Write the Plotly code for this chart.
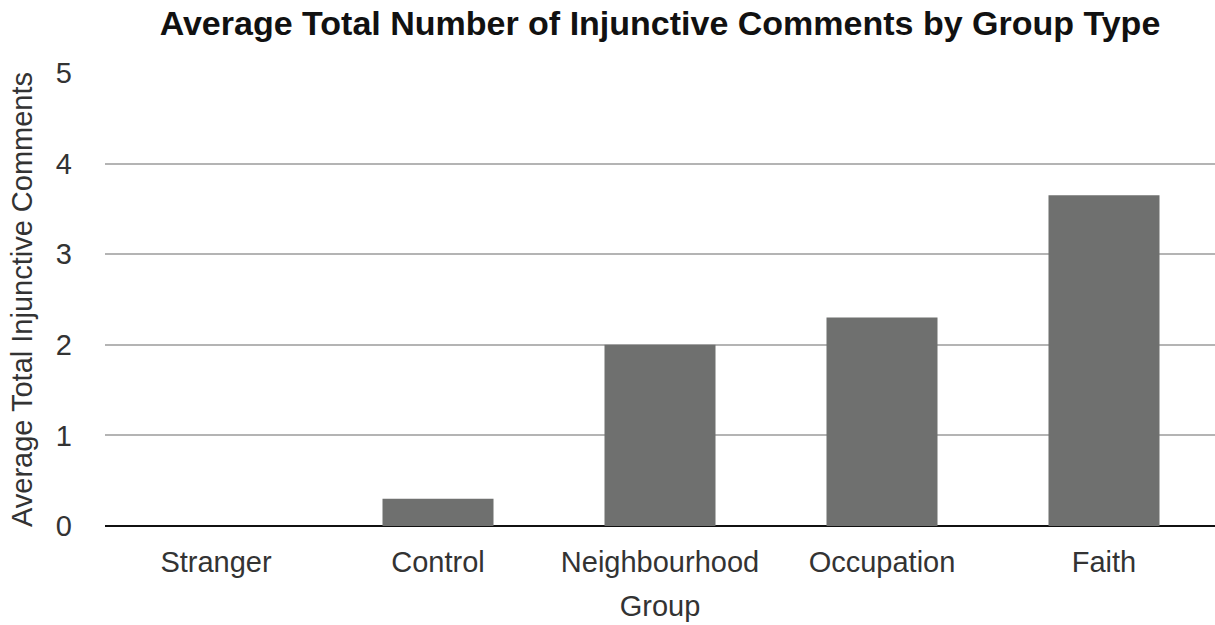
import plotly.graph_objects as go

# Average number of injunctive comments per group
groups = ["Stranger", "Control", "Neighbourhood", "Occupation", "Faith"]
avg_comments = [0.0, 0.3, 2.0, 2.3, 3.65]
y_ticks = [0, 1, 2, 3, 4, 5]

FONT = "Liberation Sans, Arial, Helvetica, sans-serif"
BAR = "#6f706f"
TEXT = "#333333"

fig = go.Figure(
    go.Bar(
        x=groups,
        y=avg_comments,
        marker=dict(color=BAR, line=dict(width=0)),
        hoverinfo="x+y",
    )
)

fig.update_layout(
    width=1215,
    height=625,
    margin=dict(l=105, r=0, t=73, b=99),
    paper_bgcolor="white",
    plot_bgcolor="white",
    bargap=0.5,
    showlegend=False,
    font=dict(family=FONT, size=29, color=TEXT),
    title=dict(
        text="<b>Average Total Number of Injunctive Comments by Group Type</b>",
        x=0.5,
        xref="paper",
        xanchor="center",
        y=1 - 23 / 625,
        yref="container",
        yanchor="middle",
        font=dict(family=FONT, size=34, color="#111111"),
    ),
)

fig.update_xaxes(
    type="category",
    range=[-0.5, 4.5],
    showgrid=False,
    showline=False,
    zeroline=False,
    ticks="",
    ticklabelstandoff=16,
    tickfont=dict(size=29, color=TEXT),
    title=dict(text="Group", standoff=18, font=dict(size=29, color=TEXT)),
)

fig.update_yaxes(
    range=[0, 5],
    tickvals=y_ticks,
    ticktext=[str(v) for v in y_ticks],
    showgrid=True,
    gridcolor="#b4b4b4",
    gridwidth=2,
    zeroline=True,
    zerolinecolor="#111111",
    zerolinewidth=2,
    showline=False,
    ticks="",
    ticklabelstandoff=32,
    tickfont=dict(size=29, color=TEXT),
    title=dict(text="Average Total Injunctive Comments", standoff=14,
               font=dict(size=29, color=TEXT)),
)

fig.write_html("out.html")
